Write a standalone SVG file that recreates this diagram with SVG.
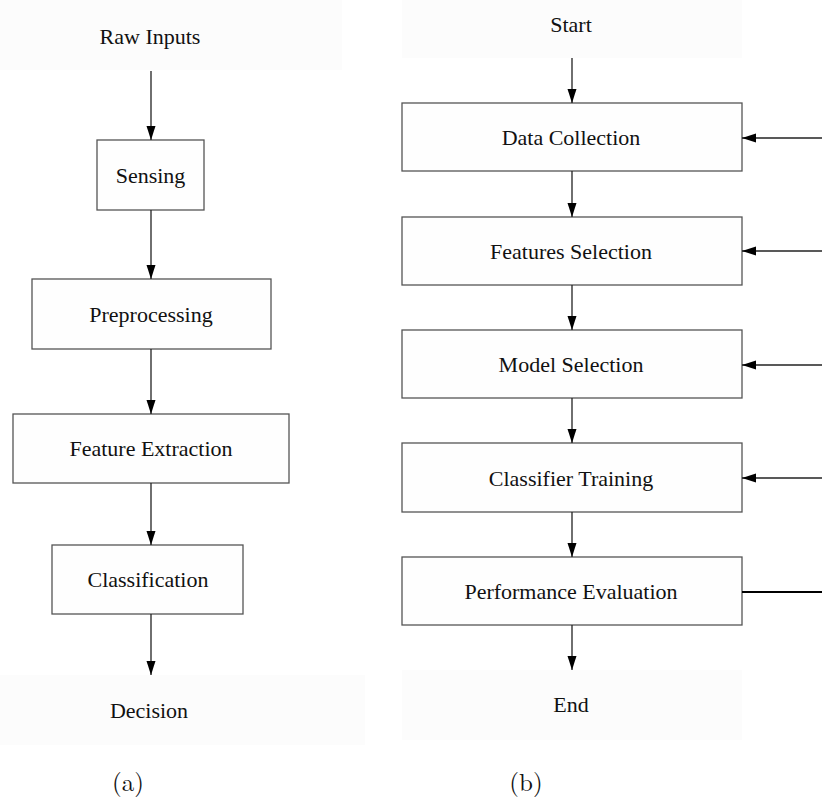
<svg xmlns="http://www.w3.org/2000/svg" width="822" height="798" viewBox="0 0 822 798">
<style>
.bg{fill:#fcfcfc;stroke:none}
.box{fill:#fefefe;stroke:#555;stroke-width:1.3}
.t{font-family:"Liberation Serif","Times New Roman",serif;font-size:22px;fill:#111;text-anchor:middle}
.cap{font-family:"Latin Modern Roman","DejaVu Serif","Liberation Serif",serif;font-size:25px;fill:#111;text-anchor:middle}
.ln{stroke:#222;stroke-width:1.3;fill:none}
</style>
<defs>
<marker id="ah" markerWidth="14" markerHeight="10" refX="14" refY="5" orient="auto" markerUnits="userSpaceOnUse">
<path d="M0,0.5 L14,5 L0,9.5 Z" fill="#000"/>
</marker>
</defs>
<rect width="822" height="798" fill="#fff"/>
<g id="raw-inputs"><rect class="bg" x="0" y="0" width="342" height="70"/><text class="t" x="150" y="44">Raw Inputs</text></g>
<g id="sensing"><rect class="box" x="97" y="140" width="107" height="70"/><text class="t" x="150.5" y="183">Sensing</text></g>
<g id="preprocessing"><rect class="box" x="32" y="279" width="239" height="70"/><text class="t" x="151" y="322">Preprocessing</text></g>
<g id="feature-extraction"><rect class="box" x="13" y="414" width="276" height="69"/><text class="t" x="151" y="456">Feature Extraction</text></g>
<g id="classification"><rect class="box" x="52" y="545" width="191" height="69"/><text class="t" x="148" y="587">Classification</text></g>
<g id="decision"><rect class="bg" x="0" y="675" width="365" height="70"/><text class="t" x="149" y="718">Decision</text></g>
<text class="cap" x="128" y="791">(a)</text>

<g id="start"><rect class="bg" x="402" y="0" width="340" height="58"/><text class="t" x="571" y="32">Start</text></g>
<g id="data-collection"><rect class="box" x="402" y="103" width="340" height="68"/><text class="t" x="571" y="145">Data Collection</text></g>
<g id="features-selection"><rect class="box" x="402" y="217" width="340" height="68"/><text class="t" x="571" y="259">Features Selection</text></g>
<g id="model-selection"><rect class="box" x="402" y="330" width="340" height="68"/><text class="t" x="571" y="372">Model Selection</text></g>
<g id="classifier-training"><rect class="box" x="402" y="443" width="340" height="69"/><text class="t" x="571" y="486">Classifier Training</text></g>
<g id="performance-evaluation"><rect class="box" x="402" y="557" width="340" height="68"/><text class="t" x="571" y="599">Performance Evaluation</text></g>
<g id="end"><rect class="bg" x="402" y="670" width="340" height="70"/><text class="t" x="571" y="712">End</text></g>
<text class="cap" x="526" y="791">(b)</text>

<g id="connectors">
<line class="ln" x1="151" y1="71" x2="151" y2="140" marker-end="url(#ah)"/>
<line class="ln" x1="151" y1="210" x2="151" y2="279" marker-end="url(#ah)"/>
<line class="ln" x1="151" y1="349" x2="151" y2="414" marker-end="url(#ah)"/>
<line class="ln" x1="151" y1="483" x2="151" y2="545" marker-end="url(#ah)"/>
<line class="ln" x1="151" y1="614" x2="151" y2="675" marker-end="url(#ah)"/>
<line class="ln" x1="572" y1="58" x2="572" y2="103" marker-end="url(#ah)"/>
<line class="ln" x1="572" y1="171" x2="572" y2="217" marker-end="url(#ah)"/>
<line class="ln" x1="572" y1="285" x2="572" y2="330" marker-end="url(#ah)"/>
<line class="ln" x1="572" y1="398" x2="572" y2="443" marker-end="url(#ah)"/>
<line class="ln" x1="572" y1="512" x2="572" y2="557" marker-end="url(#ah)"/>
<line class="ln" x1="572" y1="625" x2="572" y2="670" marker-end="url(#ah)"/>
<line class="ln" x1="822" y1="138" x2="742" y2="138" marker-end="url(#ah)"/>
<line class="ln" x1="822" y1="251" x2="742" y2="251" marker-end="url(#ah)"/>
<line class="ln" x1="822" y1="365" x2="742" y2="365" marker-end="url(#ah)"/>
<line class="ln" x1="822" y1="478" x2="742" y2="478" marker-end="url(#ah)"/>
<line x1="742" y1="592" x2="822" y2="592" stroke="#000" stroke-width="2"/>
</g>
</svg>
